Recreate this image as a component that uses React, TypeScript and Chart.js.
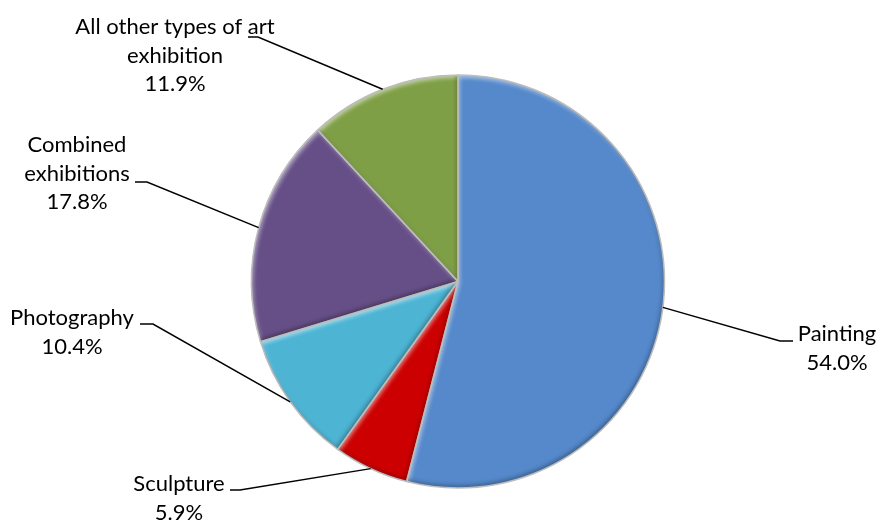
import React, { useEffect, useRef } from "react";
import { Chart, registerables } from "chart.js";

Chart.register(...registerables);

const categories = [
  "Painting",
  "Sculpture",
  "Photography",
  "Combined exhibitions",
  "All other types of art exhibition",
];
const shares = [54.0, 5.9, 10.4, 17.8, 11.9];
const labelLines = [
  ["Painting"],
  ["Sculpture"],
  ["Photography"],
  ["Combined", "exhibitions"],
  ["All other types of art", "exhibition"],
];
const colors = ["#5589CB", "#CC0000", "#4DB4D4", "#664F87", "#7F9F46"];

// annotation layout: label centre x, first baseline y, elbow of leader, end of leader
const labelLayout = [
  { cx: 837, y0: 341, elbowX: 780, elbowY: 341, endX: 793 },
  { cx: 179, y0: 491, elbowX: 240, elbowY: 490, endX: 230 },
  { cx: 72, y0: 325, elbowX: 153, elbowY: 324, endX: 140 },
  { cx: 77, y0: 152, elbowX: 147, elbowY: 182, endX: 135 },
  { cx: 175, y0: 34, elbowX: 258, elbowY: 37, endX: 248 },
];

const FONT_FAMILY = "Lato, 'Open Sans', sans-serif";
const FONT_SIZE = 22;
const LINE_H = 28.7;

function arcPath(ctx: CanvasRenderingContext2D, a: any) {
  ctx.beginPath();
  ctx.moveTo(a.x, a.y);
  ctx.arc(a.x, a.y, a.outerRadius, a.startAngle, a.endAngle);
  ctx.closePath();
}

const bevelPlugin = {
  id: "bevel",
  afterDatasetsDraw(chart: any) {
    const ctx: CanvasRenderingContext2D = chart.ctx;
    const meta = chart.getDatasetMeta(0);
    meta.data.forEach((el: any) => {
      const a = el.getProps(["x", "y", "startAngle", "endAngle", "outerRadius"], true);
      const shadows = [
        { c: "rgba(255,255,255,0.55)", dx: 1.5, dy: 2.5, b: 4 },
        { c: "rgba(0,0,0,0.30)", dx: -1.5, dy: -2.5, b: 4 },
      ];
      shadows.forEach((s) => {
        ctx.save();
        arcPath(ctx, a);
        ctx.clip();
        ctx.beginPath();
        ctx.rect(-2000, -2000, 5000, 5000);
        ctx.moveTo(a.x, a.y);
        ctx.arc(a.x, a.y, a.outerRadius, a.startAngle, a.endAngle);
        ctx.closePath();
        ctx.shadowColor = s.c;
        ctx.shadowOffsetX = s.dx;
        ctx.shadowOffsetY = s.dy;
        ctx.shadowBlur = s.b;
        ctx.fillStyle = "#808080";
        ctx.fill("evenodd");
        ctx.restore();
      });
      ctx.save();
      arcPath(ctx, a);
      ctx.lineWidth = 1.5;
      ctx.strokeStyle = "#BDBDBD";
      ctx.lineJoin = "round";
      ctx.stroke();
      ctx.restore();
    });
  },
};

const labelPlugin = {
  id: "leaderLabels",
  afterDraw(chart: any) {
    const ctx: CanvasRenderingContext2D = chart.ctx;
    const meta = chart.getDatasetMeta(0);
    meta.data.forEach((el: any, i: number) => {
      const a = el.getProps(["x", "y", "startAngle", "endAngle", "outerRadius"], true);
      const mid = (a.startAngle + a.endAngle) / 2;
      const px = a.x + Math.cos(mid) * a.outerRadius;
      const py = a.y + Math.sin(mid) * a.outerRadius;
      const L = labelLayout[i];
      ctx.save();
      ctx.strokeStyle = "#000";
      ctx.lineWidth = 1.5;
      ctx.beginPath();
      ctx.moveTo(px, py);
      ctx.lineTo(L.elbowX, L.elbowY);
      ctx.lineTo(L.endX, L.elbowY);
      ctx.stroke();
      ctx.fillStyle = "#000";
      ctx.font = `${FONT_SIZE}px ${FONT_FAMILY}`;
      ctx.textAlign = "center";
      ctx.textBaseline = "alphabetic";
      const lines = [...labelLines[i], shares[i].toFixed(1) + "%"];
      lines.forEach((t, k) => ctx.fillText(t, L.cx, L.y0 + k * LINE_H));
      ctx.restore();
    });
  },
};

export default function App() {
  const ref = useRef<HTMLCanvasElement | null>(null);
  useEffect(() => {
    if (!ref.current) return;
    const chart = new Chart(ref.current, {
      type: "pie",
      data: {
        labels: categories,
        datasets: [
          {
            data: shares,
            backgroundColor: colors,
            borderColor: "#BDBDBD",
            borderWidth: 0,
          },
        ],
      },
      options: {
        animation: false,
        responsive: true,
        maintainAspectRatio: false,
        layout: { padding: { top: 75, bottom: 33, left: 200, right: 164 } },
        plugins: { legend: { display: false }, tooltip: { enabled: false } },
      },
      plugins: [bevelPlugin, labelPlugin],
    });
    return () => chart.destroy();
  }, []);
  return (
    <div style={{ position: "fixed", left: 0, top: 0, width: 880, height: 521, background: "#fff" }}>
      <canvas ref={ref} />
    </div>
  );
}
